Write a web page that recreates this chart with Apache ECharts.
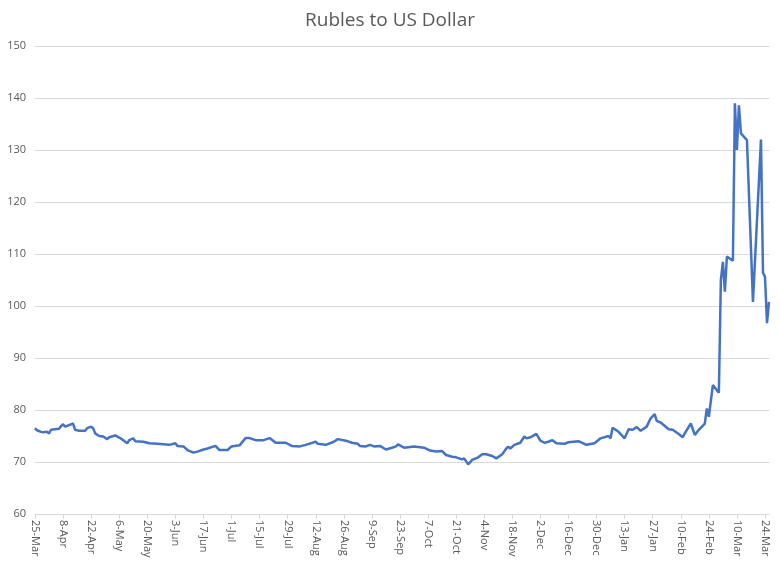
<!DOCTYPE html>
<html>
<head>
<meta charset="utf-8">
<script src="https://cdn.jsdelivr.net/npm/echarts@6/dist/echarts.min.js"></script>
<style>
  html, body { margin: 0; padding: 0; background: #fff; }
  #chart { width: 780px; height: 565px; }
</style>
</head>
<body>
<div id="chart"></div>
<script>
// Rubles per US dollar
var dates = [
  '2021-03-25','2021-03-26','2021-03-28','2021-03-29','2021-03-31','2021-04-01','2021-04-02','2021-04-04',
  '2021-04-06','2021-04-07','2021-04-08','2021-04-09','2021-04-11','2021-04-13','2021-04-14','2021-04-16',
  '2021-04-19','2021-04-20','2021-04-22','2021-04-23','2021-04-24','2021-04-26','2021-04-28','2021-04-30',
  '2021-05-01','2021-05-04','2021-05-06','2021-05-08','2021-05-10','2021-05-11','2021-05-13','2021-05-14',
  '2021-05-18','2021-05-21','2021-05-25','2021-05-28','2021-05-31','2021-06-03','2021-06-04','2021-06-07',
  '2021-06-09','2021-06-12','2021-06-14','2021-06-17','2021-06-19','2021-06-23','2021-06-25','2021-06-29',
  '2021-07-01','2021-07-05','2021-07-08','2021-07-10','2021-07-13','2021-07-17','2021-07-20','2021-07-23',
  '2021-07-28','2021-07-31','2021-08-04','2021-08-07','2021-08-12','2021-08-13','2021-08-17','2021-08-21',
  '2021-08-23','2021-08-27','2021-08-30','2021-09-02','2021-09-03','2021-09-06','2021-09-08','2021-09-10',
  '2021-09-13','2021-09-16','2021-09-19','2021-09-21','2021-09-22','2021-09-25','2021-09-30','2021-10-05',
  '2021-10-08','2021-10-11','2021-10-14','2021-10-16','2021-10-19','2021-10-21','2021-10-24','2021-10-25',
  '2021-10-27','2021-10-29','2021-11-01','2021-11-03','2021-11-05','2021-11-08','2021-11-10','2021-11-13',
  '2021-11-15','2021-11-16','2021-11-17','2021-11-19','2021-11-22','2021-11-24','2021-11-25','2021-11-27',
  '2021-11-30','2021-12-02','2021-12-04','2021-12-06','2021-12-08','2021-12-10','2021-12-14','2021-12-16',
  '2021-12-21','2021-12-25','2021-12-29','2022-01-01','2022-01-05','2022-01-06','2022-01-07','2022-01-10',
  '2022-01-13','2022-01-15','2022-01-17','2022-01-19','2022-01-21','2022-01-24','2022-01-26','2022-01-28',
  '2022-01-29','2022-01-31','2022-02-04','2022-02-06','2022-02-09','2022-02-11','2022-02-12','2022-02-15',
  '2022-02-17','2022-02-19','2022-02-22','2022-02-23','2022-02-24','2022-02-26','2022-03-01','2022-03-02',
  '2022-03-03','2022-03-04','2022-03-05','2022-03-08','2022-03-09','2022-03-10','2022-03-11','2022-03-12',
  '2022-03-15','2022-03-18','2022-03-22','2022-03-23','2022-03-24','2022-03-25','2022-03-26'
];
var rubles = [
  76.5, 76.1, 75.8, 75.7, 75.8, 75.5, 76.2, 76.3,
  76.4, 76.9, 77.25, 76.8, 77.1, 77.4, 76.2, 76.0,
  76.0, 76.5, 76.8, 76.5, 75.5, 75.0, 74.9, 74.4,
  74.75, 75.1, 74.7, 74.2, 73.6, 74.2, 74.55, 74.0,
  73.9, 73.6, 73.5, 73.4, 73.3, 73.6, 73.1, 73.0,
  72.3, 71.8, 72.0, 72.4, 72.6, 73.1, 72.3, 72.3,
  73.0, 73.2, 74.6, 74.6, 74.2, 74.2, 74.6, 73.7,
  73.7, 73.1, 73.0, 73.3, 73.9, 73.5, 73.3, 73.9,
  74.4, 74.1, 73.7, 73.5, 73.1, 73.0, 73.3, 73.0,
  73.1, 72.4, 72.75, 73.0, 73.4, 72.75, 73.0, 72.75,
  72.2, 72.0, 72.1, 71.35, 71.0, 70.9, 70.5, 70.7,
  69.55, 70.4, 70.9, 71.5, 71.5, 71.15, 70.7, 71.5,
  72.6, 72.95, 72.6, 73.3, 73.7, 74.9, 74.55, 74.75,
  75.4, 74.1, 73.7, 73.9, 74.2, 73.6, 73.5, 73.8,
  74.0, 73.3, 73.6, 74.55, 75.0, 74.55, 76.6, 75.8,
  74.55, 76.3, 76.2, 76.7, 76.0, 76.8, 78.4, 79.2,
  77.9, 77.6, 76.3, 76.2, 75.4, 74.75, 75.5, 77.4,
  75.2, 76.2, 77.4, 80.3, 78.7, 84.8, 83.3, 105.0,
  108.5, 102.75, 109.5, 108.7, 139.0, 130.0, 138.6, 133.2,
  131.9, 100.8, 132.0, 106.4, 105.6, 96.7, 100.8
];
// axis labels, one every 14 days from 25-Mar
var tickLabels = [
  '25-Mar','8-Apr','22-Apr','6-May','20-May','3-Jun','17-Jun','1-Jul','15-Jul',
  '29-Jul','12-Aug','26-Aug','9-Sep','23-Sep','7-Oct','21-Oct','4-Nov','18-Nov',
  '2-Dec','16-Dec','30-Dec','13-Jan','27-Jan','10-Feb','24-Feb','10-Mar','24-Mar'
];

var start = Date.UTC(2021, 2, 25);
function dayOf(s) {
  var p = s.split('-');
  return Math.round((Date.UTC(+p[0], +p[1] - 1, +p[2]) - start) / 86400000);
}
var points = dates.map(function (d, i) { return [dayOf(d), rubles[i]]; });

var chart = echarts.init(document.getElementById('chart'));
var fontName = '"Open Sans", "Noto Sans", sans-serif';

var option = {
  animation: false,
  title: {
    text: 'Rubles to US Dollar',
    left: 'center',
    top: 6,
    textStyle: { color: '#595959', fontSize: 19, fontWeight: 'normal', fontFamily: fontName }
  },
  grid: { left: 35, right: 11, top: 46, bottom: 51 },
  xAxis: {
    type: 'value',
    min: 0,
    max: 366,
    interval: 14,
    splitLine: { show: false },
    axisLine: { lineStyle: { color: '#d9d9d9', width: 1 } },
    axisTick: { show: true, length: 5, lineStyle: { color: '#d9d9d9' } },
    axisLabel: {
      rotate: -90,
      color: '#595959',
      fontSize: 11,
      margin: 6,
      fontFamily: fontName,
      showMaxLabel: false,
      formatter: function (v) { return v % 14 === 0 ? tickLabels[v / 14] : ''; }
    }
  },
  yAxis: {
    type: 'value',
    min: 60,
    max: 150,
    interval: 10,
    axisLine: { show: false },
    axisTick: { show: false },
    splitLine: { lineStyle: { color: '#d9d9d9', width: 1 } },
    axisLabel: { color: '#595959', fontSize: 11, margin: 9, fontFamily: fontName }
  },
  series: [{
    name: 'Rubles to US Dollar',
    type: 'line',
    data: points,
    showSymbol: false,
    lineStyle: { color: '#4472C4', width: 2.5 },
    itemStyle: { color: '#4472C4' }
  }]
};

chart.setOption(option);
</script>
</body>
</html>
